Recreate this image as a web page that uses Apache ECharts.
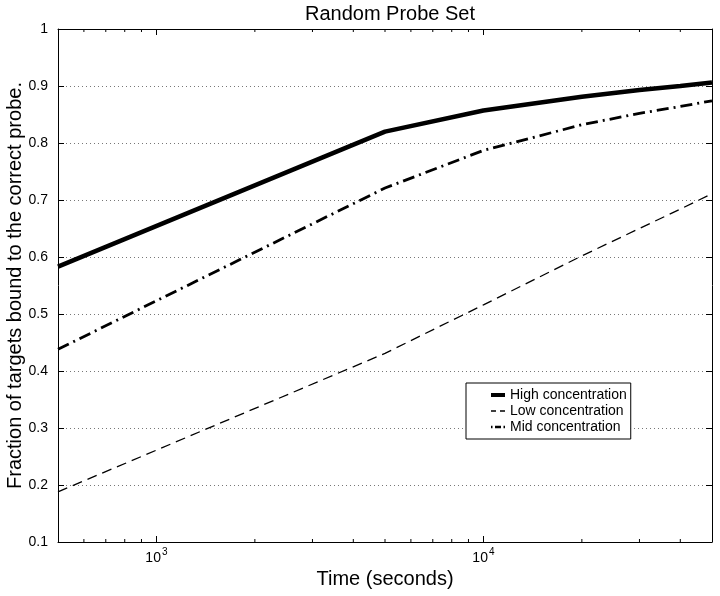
<!DOCTYPE html>
<html>
<head>
<meta charset="utf-8">
<script src="https://cdn.jsdelivr.net/npm/echarts@6/dist/echarts.min.js"></script>
<style>
  html, body { margin: 0; padding: 0; background: #fff; }
  #chart { width: 720px; height: 596px; }
</style>
</head>
<body>
<div id="chart"></div>
<script>
// ---- data ----
const times = [500, 5000, 10000, 20000, 30000, 40000, 50000];
const highConc = [0.583, 0.820, 0.857, 0.881, 0.893, 0.900, 0.906];
const lowConc  = [0.188, 0.431, 0.516, 0.602, 0.650, 0.684, 0.711];
const midConc  = [0.438, 0.721, 0.787, 0.832, 0.852, 0.864, 0.874];
const seriesNames = ['High concentration', 'Low concentration', 'Mid concentration'];
const minorTicks = [600, 700, 800, 900, 2000, 3000, 4000, 5000, 6000, 7000, 8000, 9000, 20000, 30000, 40000];
const xMin = 500, xMax = 50000, yMin = 0.1, yMax = 1;

const FONT = '"Liberation Sans", Arial, Helvetica, sans-serif';
const pair = (xs, ys) => xs.map((x, i) => [x, ys[i]]);

// legend sample glyphs (solid, dashed, dash-dot)
const legendIcons = [
  'path://M0,0h14v4h-14z',
  'path://M0,0h5v1.3h-5z M9,0h5v1.3h-5z',
  'path://M0,0h1.5v2.6h-1.5z M4,0h6v2.6h-6z M12.5,0h1.5v2.6h-1.5z'
];

function logLabel(v) {
  const e = Math.round(Math.log10(v));
  if (Math.abs(Math.pow(10, e) - v) < 1e-6 * v) return '{base|10}{sup|' + e + '}';
  return '';
}

const chart = echarts.init(document.getElementById('chart'), null, { renderer: 'canvas' });
chart.setOption({
  animation: false,
  backgroundColor: '#fff',
  title: {
    text: 'Random Probe Set',
    left: 385, top: -1, textAlign: 'center',
    textStyle: { fontFamily: FONT, fontSize: 20, fontWeight: 'normal', color: '#000' }
  },
  grid: { left: 58, right: 8, top: 29, bottom: 54, containLabel: false, outerBoundsMode: 'none' },
  legend: {
    orient: 'vertical',
    left: 466, top: 383,
    padding: [5, 4, 5, 25],
    itemWidth: 14, itemHeight: 14, itemGap: 2,
    symbolKeepAspect: true,
    backgroundColor: '#fff', borderColor: '#000', borderWidth: 1,
    textStyle: { fontFamily: FONT, fontSize: 14, color: '#000' },
    data: seriesNames.map((n, i) => ({ name: n, icon: legendIcons[i] }))
  },
  xAxis: [
    {
      type: 'log', logBase: 10, min: xMin, max: xMax, position: 'bottom',
      name: 'Time (seconds)', nameLocation: 'middle', nameGap: 24,
      nameTextStyle: { fontFamily: FONT, fontSize: 20, color: '#000' },
      axisLine: { show: true, lineStyle: { color: '#000', width: 1 } },
      axisTick: { show: true, inside: true, length: 6, lineStyle: { color: '#000' } },
      splitLine: { show: false },
      minorTick: { show: false },
      axisLabel: {
        formatter: logLabel, margin: 5, showMinLabel: false, showMaxLabel: false,
        rich: {
          base: { fontFamily: FONT, fontSize: 14, color: '#000', verticalAlign: 'bottom' },
          sup: { fontFamily: FONT, fontSize: 10, color: '#000', verticalAlign: 'bottom', padding: [0, 0, 8, 1] }
        }
      }
    },
    {
      type: 'log', logBase: 10, min: xMin, max: xMax, position: 'top',
      axisLine: { show: true, lineStyle: { color: '#000', width: 1 } },
      axisTick: { show: true, inside: true, length: 6, lineStyle: { color: '#000' } },
      axisLabel: { show: false },
      splitLine: { show: false }
    }
  ],
  yAxis: [
    {
      type: 'value', min: yMin, max: yMax, interval: 0.1, position: 'left',
      name: 'Fraction of targets bound to the correct probe.',
      nameLocation: 'middle', nameGap: 33, nameRotate: 90, nameMoveOverlap: false,
      nameTextStyle: { fontFamily: FONT, fontSize: 20, color: '#000' },
      axisLine: { show: true, lineStyle: { color: '#000', width: 1 } },
      axisTick: { show: true, inside: true, length: 6, lineStyle: { color: '#000' } },
      axisLabel: {
        formatter: v => String(+v.toFixed(1)), margin: 10,
        fontFamily: FONT, fontSize: 14, color: '#000'
      },
      splitLine: { show: true, lineStyle: { color: '#777', width: 1, type: [1, 3] } }
    },
    {
      type: 'value', min: yMin, max: yMax, interval: 0.1, position: 'right',
      axisLine: { show: true, lineStyle: { color: '#000', width: 1 } },
      axisTick: { show: true, inside: true, length: 6, lineStyle: { color: '#000' } },
      axisLabel: { show: false },
      splitLine: { show: false }
    }
  ],
  series: [
    {
      name: seriesNames[0], type: 'line', xAxisIndex: 0, yAxisIndex: 0,
      data: pair(times, highConc), symbol: 'none', color: '#000',
      lineStyle: { color: '#000', width: 4.5 }, z: 5
    },
    {
      name: seriesNames[1], type: 'line', xAxisIndex: 0, yAxisIndex: 0,
      data: pair(times, lowConc), symbol: 'none', color: '#000',
      lineStyle: { color: '#000', width: 1.3, type: [10, 6] }, z: 5
    },
    {
      name: seriesNames[2], type: 'line', xAxisIndex: 0, yAxisIndex: 0,
      data: pair(times, midConc), symbol: 'none', color: '#000',
      lineStyle: { color: '#000', width: 2.8, type: [12, 5, 2, 5] }, z: 5
    },
    {
      name: 'minorTicks', type: 'custom', xAxisIndex: 0, yAxisIndex: 0,
      silent: true, clip: false, z: 4,
      data: minorTicks.map(v => [v, yMin]),
      encode: { x: 0, y: 1 },
      renderItem: function (params, api) {
        const v = api.value(0);
        const b = api.coord([v, yMin]);
        const t = api.coord([v, yMax]);
        const st = { stroke: '#000', lineWidth: 1 };
        return {
          type: 'group',
          children: [
            { type: 'line', shape: { x1: b[0], y1: b[1], x2: b[0], y2: b[1] - 3 }, style: st },
            { type: 'line', shape: { x1: t[0], y1: t[1], x2: t[0], y2: t[1] + 3 }, style: st }
          ]
        };
      }
    }
  ]
});
</script>
</body>
</html>
